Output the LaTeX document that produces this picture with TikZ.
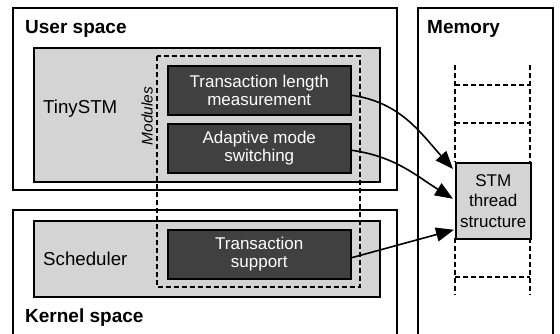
\documentclass[tikz,border=0pt]{standalone}
\usepackage{fontspec}
\setmainfont{Liberation Sans}
\usetikzlibrary{arrows.meta}
\definecolor{lightg}{HTML}{D4D4D4}
\definecolor{darkg}{HTML}{404040}
\tikzset{
  outerbox/.style={draw=black, line width=1.6pt},
  graybox/.style={draw=black, line width=1.5pt, fill=lightg, rectangle, inner sep=0pt, anchor=north west},
  darkbox/.style={draw=black, line width=1.5pt, fill=darkg, rectangle, inner sep=0pt, anchor=north west,
     text=white, align=center, font=\fontsize{17}{17.7}\selectfont},
  dashline/.style={line width=1.5pt, dash pattern=on 5pt off 3pt},
  seclabel/.style={font=\fontsize{19}{21}\selectfont\bfseries, anchor=base west, inner sep=0pt},
  complabel/.style={font=\fontsize{18.7}{20}\selectfont, anchor=base west, inner sep=0pt},
  arr/.style={line width=1.6pt, -{Triangle[length=18pt,width=14pt]}},
}
\begin{document}
\begin{tikzpicture}[x=1pt,y=-1pt]
\useasboundingbox (0,0) rectangle (560,333);
\clip (0,0) rectangle (560,333);
\fill[white] (0,0) rectangle (560,333);
% outer boxes
\draw[outerbox] (13,8) rectangle (397,190);
\draw[outerbox] (13,340) -- (13,210) -- (397,210) -- (397,340);
\draw[outerbox] (418,340) -- (418,8) -- (553,8) -- (553,340);
\node[seclabel] (us) at (25,33) {User space};
\node[seclabel] (mem) at (427,33) {Memory};
\node[seclabel] (ks) at (25,322) {Kernel space};
% gray boxes
\node[graybox, minimum width=346pt, minimum height=134pt] (tiny) at (33,47) {};
\node[graybox, minimum width=346pt, minimum height=76pt] (sched) at (33,220) {};
\node[complabel] (tinyl) at (43,113) {TinySTM};
\node[complabel] (schedl) at (43,265.5) {Scheduler};
% modules
\draw[dashline] (157,56) rectangle (360,287);
\node[rotate=90, font=\fontsize{15.5}{16}\selectfont\itshape, inner sep=0pt] (modl) at (147,116) {Modules};
% dark boxes
\node[darkbox, minimum width=183pt, minimum height=49pt] (tlm) at (167,65) {Transaction length\\measurement};
\node[darkbox, minimum width=183pt, minimum height=49pt] (ams) at (167,123) {Adaptive mode\\switching};
\node[darkbox, minimum width=183pt, minimum height=49pt] (ts) at (167,229) {Transaction\\support};
% memory column
\draw[dashline] (455,65) -- (455,162);
\draw[dashline] (530,65) -- (530,162);
\draw[dashline] (455,238) -- (455,295);
\draw[dashline] (530,238) -- (530,295);
\draw[dashline] (455,85) -- (530,85);
\draw[dashline] (455,123) -- (530,123);
\draw[dashline] (455,277) -- (530,277);
\node[graybox, minimum width=75pt, minimum height=76pt, align=center,
      font=\fontsize{17}{20.5}\selectfont] (stm) at (455,162) {STM\\thread\\structure};
% arrows
\draw[arr] ([yshift=-5pt]tlm.east) to[out=-8, in=132] ([yshift=-7pt,xshift=-2pt]stm.north west);
\draw[arr] ([yshift=-2pt]ams.east) to[out=-8, in=148] ([xshift=-2pt,yshift=2pt]stm.west);
\draw[arr] ([yshift=-3.5pt]ts.east) -- ([xshift=-1pt,yshift=-29pt]stm.west);
\end{tikzpicture}
\end{document}
